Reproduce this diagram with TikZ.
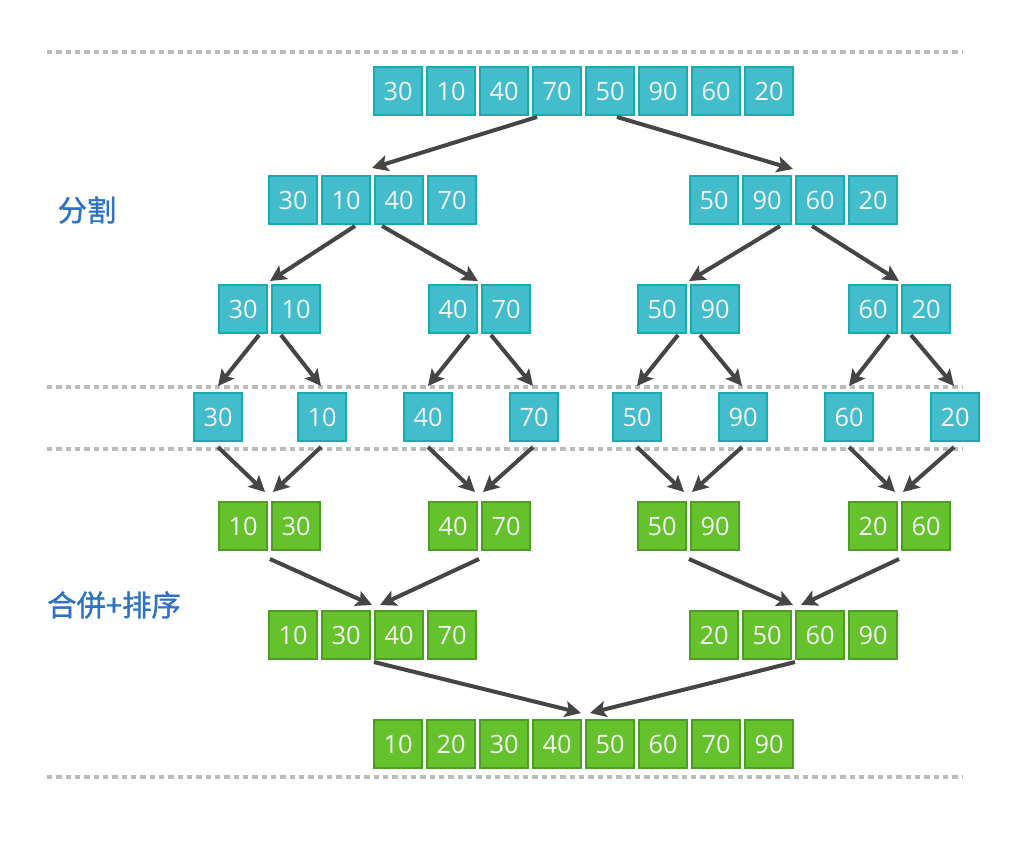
\documentclass[tikz,border=0pt]{standalone}
\usepackage{fontspec}
\setmainfont{Open Sans}
\newfontfamily\cjk[FakeBold=1.2]{Noto Sans CJK SC}
\usetikzlibrary{arrows.meta}
\definecolor{cyfill}{HTML}{43BDCC}
\definecolor{cyline}{HTML}{17ADB0}
\definecolor{grfill}{HTML}{65C22D}
\definecolor{grline}{HTML}{4C9E22}
\definecolor{arrcol}{HTML}{454545}
\definecolor{dashcol}{HTML}{BBBBBB}
\definecolor{labcol}{HTML}{2D72C4}
\definecolor{numcol}{HTML}{F4F4F4}
\tikzset{
  boxbase/.style={rectangle, minimum width=36pt, minimum height=36pt, inner sep=0pt, line width=1.5pt, text=numcol, font=\fontsize{19pt}{21pt}\selectfont},
  cb/.style={boxbase, draw=cyline, fill=cyfill},
  gb/.style={boxbase, draw=grline, fill=grfill},
  arr/.style={draw=arrcol, line width=3pt, -{Stealth[length=12pt,width=12pt,inset=2.5pt]}},
  sep/.style={draw=dashcol, line width=2.3pt, dash pattern=on 4pt off 3pt},
  lab/.style={text=labcol, font=\cjk\fontsize{22pt}{25pt}\selectfont}
}
\begin{document}
\begin{tikzpicture}[x=0.75pt,y=-0.75pt]
\useasboundingbox (0,0) rectangle (1024,844);
% separators
\coordinate (s1a) at (47,52);  \coordinate (s1b) at (962,52);
\coordinate (s2a) at (47,387); \coordinate (s2b) at (962,387);
\coordinate (s3a) at (47,449); \coordinate (s3b) at (962,449);
\coordinate (s4a) at (47,777); \coordinate (s4b) at (962,777);
\draw[sep] (s1a) -- (s1b);
\draw[sep] (s2a) -- (s2b);
\draw[sep] (s3a) -- (s3b);
\draw[sep] (s4a) -- (s4b);
% labels
\node[lab] (l1) at (87,210) {分割};
\node[lab] (l2) at (114,605) {合併+排序};
% row 1
\node[cb] (r1a) at (398,91) {30};
\node[cb] (r1b) at (451,91) {10};
\node[cb] (r1c) at (504,91) {40};
\node[cb] (r1d) at (557,91) {70};
\node[cb] (r1e) at (610,91) {50};
\node[cb] (r1f) at (663,91) {90};
\node[cb] (r1g) at (716,91) {60};
\node[cb] (r1h) at (769,91) {20};
% row 2
\node[cb] (r2a) at (293,200) {30};
\node[cb] (r2b) at (346,200) {10};
\node[cb] (r2c) at (399,200) {40};
\node[cb] (r2d) at (452,200) {70};
\node[cb] (r2e) at (714,200) {50};
\node[cb] (r2f) at (767,200) {90};
\node[cb] (r2g) at (820,200) {60};
\node[cb] (r2h) at (873,200) {20};
% row 3
\node[cb] (r3a) at (243,309) {30};
\node[cb] (r3b) at (296,309) {10};
\node[cb] (r3c) at (453,309) {40};
\node[cb] (r3d) at (506,309) {70};
\node[cb] (r3e) at (662,309) {50};
\node[cb] (r3f) at (715,309) {90};
\node[cb] (r3g) at (873,309) {60};
\node[cb] (r3h) at (926,309) {20};
% row 4
\node[cb] (r4a) at (218,417) {30};
\node[cb] (r4b) at (322,417) {10};
\node[cb] (r4c) at (428,417) {40};
\node[cb] (r4d) at (534,417) {70};
\node[cb] (r4e) at (637,417) {50};
\node[cb] (r4f) at (743,417) {90};
\node[cb] (r4g) at (849,417) {60};
\node[cb] (r4h) at (955,417) {20};
% row 5
\node[gb] (r5a) at (243,526) {10};
\node[gb] (r5b) at (296,526) {30};
\node[gb] (r5c) at (453,526) {40};
\node[gb] (r5d) at (506,526) {70};
\node[gb] (r5e) at (662,526) {50};
\node[gb] (r5f) at (715,526) {90};
\node[gb] (r5g) at (873,526) {20};
\node[gb] (r5h) at (926,526) {60};
% row 6
\node[gb] (r6a) at (293,635) {10};
\node[gb] (r6b) at (346,635) {30};
\node[gb] (r6c) at (399,635) {40};
\node[gb] (r6d) at (452,635) {70};
\node[gb] (r6e) at (714,635) {20};
\node[gb] (r6f) at (767,635) {50};
\node[gb] (r6g) at (820,635) {60};
\node[gb] (r6h) at (873,635) {90};
% row 7
\node[gb] (r7a) at (398,744) {10};
\node[gb] (r7b) at (451,744) {20};
\node[gb] (r7c) at (504,744) {30};
\node[gb] (r7d) at (557,744) {40};
\node[gb] (r7e) at (610,744) {50};
\node[gb] (r7f) at (663,744) {60};
\node[gb] (r7g) at (716,744) {70};
\node[gb] (r7h) at (769,744) {90};
% arrows: row 1 -> row 2
\draw[arr] ([shift={(-20,1)}]r1d.south) -- ([shift={(1,-7)}]r2b.north east);
\draw[arr] ([shift={(7,1)}]r1e.south) -- ([shift={(1,-6)}]r2f.north east);
% row 2 -> row 3
\draw[arr] ([shift={(9,1)}]r2b.south) -- ([shift={(2,-3)}]r3a.north east);
\draw[arr] ([shift={(-17,1)}]r2c.south) -- ([shift={(0,-3)}]r3c.north east);
\draw[arr] ([shift={(13,1)}]r2f.south) -- ([shift={(2,-3)}]r3e.north east);
\draw[arr] ([shift={(-8,1)}]r2g.south) -- ([shift={(1,-3)}]r3g.north east);
% row 3 -> row 4
\draw[arr] ([shift={(16,1)}]r3a.south) -- ([shift={(0,-6)}]r4a.north);
\draw[arr] ([shift={(-15,1)}]r3b.south) -- ([shift={(-1,-6)}]r4b.north);
\draw[arr] ([shift={(16,1)}]r3c.south) -- ([shift={(0,-6)}]r4c.north);
\draw[arr] ([shift={(-15,1)}]r3d.south) -- ([shift={(-1,-6)}]r4d.north);
\draw[arr] ([shift={(16,1)}]r3e.south) -- ([shift={(0,-6)}]r4e.north);
\draw[arr] ([shift={(-15,1)}]r3f.south) -- ([shift={(-1,-6)}]r4f.north);
\draw[arr] ([shift={(16,1)}]r3g.south) -- ([shift={(0,-6)}]r4g.north);
\draw[arr] ([shift={(-15,1)}]r3h.south) -- ([shift={(-1,-6)}]r4h.north);
% row 4 -> row 5
\draw[arr] ([shift={(0,5)}]r4a.south) -- ([shift={(-3,-9)}]r5a.north east);
\draw[arr] ([shift={(-1,5)}]r4b.south) -- ([shift={(2,-9)}]r5b.north west);
\draw[arr] ([shift={(0,5)}]r4c.south) -- ([shift={(-3,-9)}]r5c.north east);
\draw[arr] ([shift={(-1,5)}]r4d.south) -- ([shift={(2,-9)}]r5d.north west);
\draw[arr] ([shift={(0,5)}]r4e.south) -- ([shift={(-3,-9)}]r5e.north east);
\draw[arr] ([shift={(-1,5)}]r4f.south) -- ([shift={(2,-9)}]r5f.north west);
\draw[arr] ([shift={(0,5)}]r4g.south) -- ([shift={(-3,-9)}]r5g.north east);
\draw[arr] ([shift={(-1,5)}]r4h.south) -- ([shift={(2,-9)}]r5h.north west);
% row 5 -> row 6
\draw[arr] ([shift={(27,8)}]r5a.south) -- ([shift={(1,-5)}]r6b.north east);
\draw[arr] ([shift={(-27,8)}]r5d.south) -- ([shift={(6,-5)}]r6c.north west);
\draw[arr] ([shift={(27,8)}]r5e.south) -- ([shift={(1,-5)}]r6f.north east);
\draw[arr] ([shift={(-27,8)}]r5h.south) -- ([shift={(6,-5)}]r6g.north west);
% row 6 -> row 7
\draw[arr] ([shift={(0,2)}]r6c.south west) -- ([shift={(-1,-6)}]r7d.north east);
\draw[arr] ([shift={(0,2)}]r6g.south west) -- ([shift={(5,-6)}]r7e.north west);
\end{tikzpicture}
\end{document}
